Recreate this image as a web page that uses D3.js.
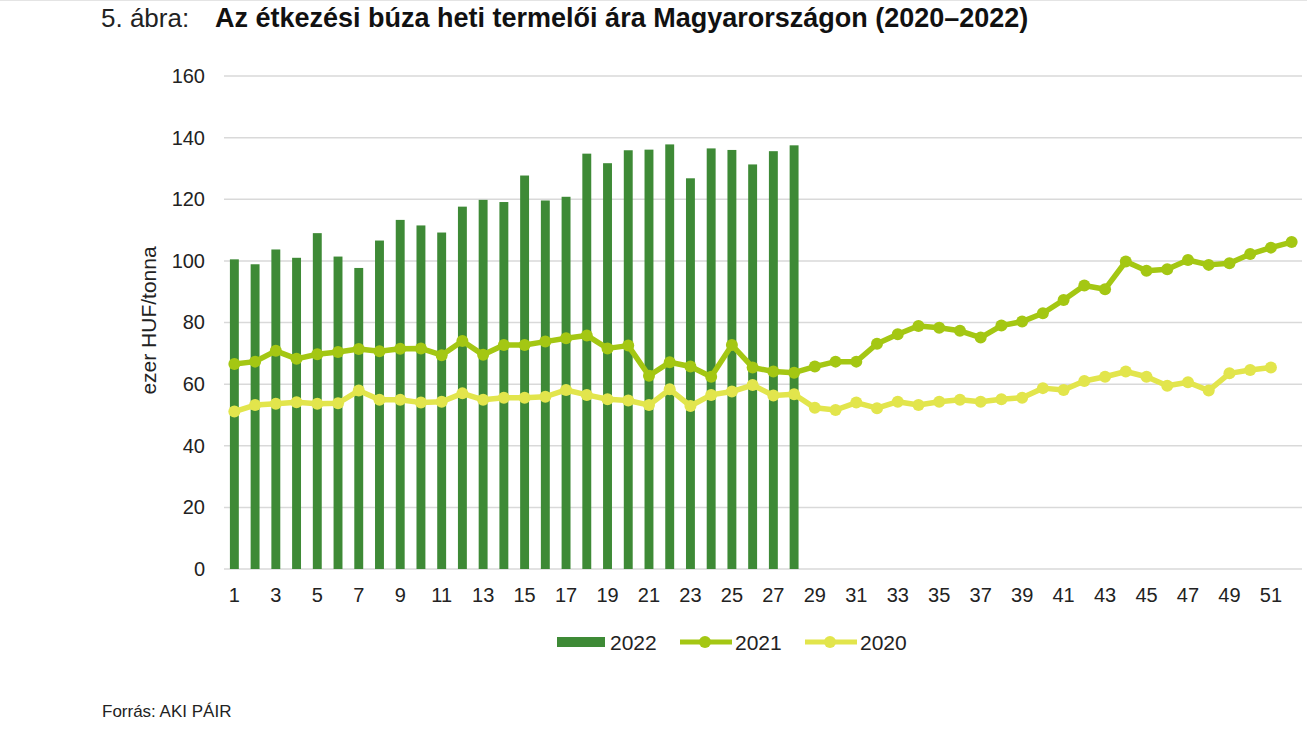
<!DOCTYPE html>
<html>
<head>
<meta charset="utf-8">
<script src="https://cdn.jsdelivr.net/npm/d3@7"></script>
<style>
  body { margin: 0; background: #fff; }
  svg text { font-family: "Liberation Sans", Arial, sans-serif; }
</style>
</head>
<body>
<div id="chart"></div>
<script>
// weeks 1..52
const WEEKS = d3.range(1, 53);
const Y_TICKS = [0, 20, 40, 60, 80, 100, 120, 140, 160];

const V2022 = [100.5, 98.9, 103.7, 101, 109, 101.4, 97.7, 106.6, 113.3, 111.5,
  109.2, 117.6, 119.8, 119.1, 127.7, 119.6, 120.8, 134.8, 131.7, 135.9,
  136.1, 137.8, 126.8, 136.5, 136, 131.3, 135.6, 137.5];

const V2021 = [66.5, 67.3, 70.8, 68.2, 69.7, 70.4, 71.4, 70.7, 71.5, 71.6,
  69.4, 74, 69.5, 72.7, 72.7, 73.8, 74.9, 75.8, 71.6, 72.5,
  62.7, 67.1, 65.7, 62.4, 72.7, 65.4, 64.1, 63.7, 65.7, 67.3,
  67.3, 73.1, 76.2, 78.9, 78.3, 77.3, 75.1, 79, 80.3, 83,
  87.3, 92, 90.8, 99.8, 96.8, 97.3, 100.3, 98.7, 99.2, 102.2,
  104.3, 106.1];

const V2020 = [51.1, 53.2, 53.6, 54.1, 53.6, 53.8, 57.9, 54.9, 54.9, 54,
  54.3, 57, 54.9, 55.6, 55.6, 55.9, 58.1, 56.5, 55.1, 54.7,
  53.2, 58.3, 52.9, 56.5, 57.6, 59.7, 56.3, 56.7, 52.3, 51.6,
  54, 52.2, 54.3, 53.2, 54.3, 54.9, 54.3, 55.1, 55.6, 58.7,
  58.1, 61, 62.4, 64.1, 62.4, 59.5, 60.6, 57.9, 63.5, 64.6,
  65.4];

const C2022 = "#3e8a36", C2021 = "#a4c713", C2020 = "#e2e54c";

const W = 1307, H = 733;
const margin = {top: 76, right: 5, bottom: 164, left: 224};

const svg = d3.select("#chart").append("svg")
    .attr("width", W)
    .attr("height", H);

// faint page edge at the top
svg.append("line")
    .attr("x1", 0).attr("x2", W)
    .attr("y1", 0.5).attr("y2", 0.5)
    .style("stroke", "#e4e4e4");

// title
const title = svg.append("text")
    .attr("x", 101)
    .attr("y", 27)
    .style("font-size", "26px")
    .style("fill", "#222");
title.append("tspan").text("5. ábra:");
title.append("tspan").attr("x", 215).style("font-weight", "bold").style("fill", "#111")
    .style("font-size", "27px")
    .text("Az étkezési búza heti termelői ára Magyarországon (2020–2022)");

const x = d3.scaleBand()
    .domain(WEEKS)
    .range([margin.left, W - margin.right])
    .paddingInner(0.57)
    .paddingOuter(0.285);

const y = d3.scaleLinear()
    .domain([0, 160])
    .range([H - margin.bottom, margin.top]);

const cx = d => x(d) + x.bandwidth() / 2;

// gridlines
svg.append("g")
    .selectAll("line")
    .data(Y_TICKS)
    .enter()
    .append("line")
    .attr("x1", margin.left)
    .attr("x2", W - margin.right)
    .attr("y1", d => y(d))
    .attr("y2", d => y(d))
    .style("stroke", "#d9d9d9")
    .style("stroke-width", 1.5);

// y axis
const yAxis = svg.append("g")
    .attr("transform", "translate(" + (margin.left - 19) + ",0)")
    .call(d3.axisLeft(y).tickValues(Y_TICKS).tickSize(0).tickPadding(0));
yAxis.select(".domain").remove();
yAxis.selectAll("text").style("font-size", "20px").style("fill", "#222");

// x axis
const xAxis = svg.append("g")
    .attr("transform", "translate(0," + (H - margin.bottom + 19) + ")")
    .call(d3.axisBottom(x).tickValues(WEEKS.filter(d => d % 2 === 1)).tickSize(0).tickPadding(0));
xAxis.select(".domain").remove();
xAxis.selectAll("text").style("font-size", "20px").style("fill", "#222")
    .attr("dy", "0.71em");

// y title
svg.append("text")
    .attr("transform", "translate(156," + (y(80) - 2) + ") rotate(-90)")
    .attr("text-anchor", "middle")
    .style("font-size", "21px")
    .style("fill", "#222")
    .text("ezer HUF/tonna");

// bars 2022
svg.append("g")
    .selectAll("rect")
    .data(V2022)
    .enter()
    .append("rect")
    .attr("x", (d, i) => x(WEEKS[i]))
    .attr("width", x.bandwidth())
    .attr("y", d => y(d))
    .attr("height", d => y(0) - y(d))
    .style("fill", C2022);

const drawSeries = (values, color) => {
    const line = d3.line()
        .x((d, i) => cx(WEEKS[i]))
        .y(d => y(d));
    svg.append("path")
        .datum(values)
        .attr("d", line)
        .style("fill", "none")
        .style("stroke", color)
        .style("stroke-width", 5.5)
        .style("stroke-linejoin", "round");
    svg.append("g")
        .selectAll("circle")
        .data(values)
        .enter()
        .append("circle")
        .attr("cx", (d, i) => cx(WEEKS[i]))
        .attr("cy", d => y(d))
        .attr("r", 6)
        .style("fill", color);
};

drawSeries(V2020, C2020);
drawSeries(V2021, C2021);

// legend
const legY = 642;
const legend = svg.append("g");
legend.append("rect")
    .attr("x", 557).attr("y", legY - 5)
    .attr("width", 48).attr("height", 10)
    .style("fill", C2022);
legend.append("text").attr("x", 610).attr("y", legY + 8)
    .style("font-size", "21px").style("fill", "#222").text("2022");

[[680, C2021, "2021"], [805, C2020, "2020"]].forEach(([lx, col, lab]) => {
    legend.append("line")
        .attr("x1", lx).attr("x2", lx + 52)
        .attr("y1", legY).attr("y2", legY)
        .style("stroke", col).style("stroke-width", 5);
    legend.append("circle")
        .attr("cx", lx + 25).attr("cy", legY).attr("r", 6)
        .style("fill", col);
    legend.append("text").attr("x", lx + 55).attr("y", legY + 8)
        .style("font-size", "21px").style("fill", "#222").text(lab);
});

// source
svg.append("text")
    .attr("x", 102)
    .attr("y", 717)
    .style("font-size", "17px")
    .style("fill", "#222")
    .text("Forrás: AKI PÁIR");
</script>
</body>
</html>
